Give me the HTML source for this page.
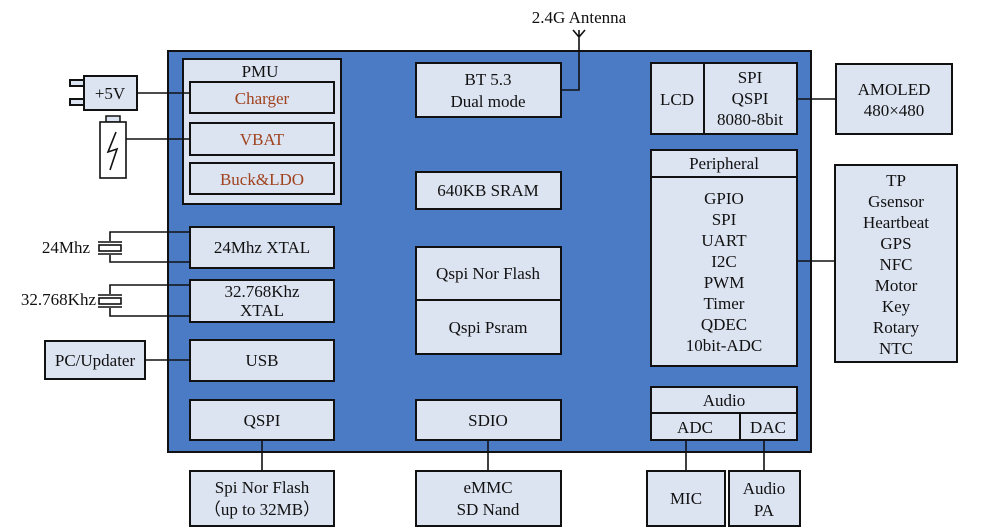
<!DOCTYPE html>
<html><head><meta charset="utf-8"><style>
html,body{margin:0;padding:0;background:#fff;}
svg{display:block;}
text{font-family:"Liberation Serif","Times New Roman",serif;font-size:17px;fill:#111;text-anchor:middle;}
.b{fill:#dce3f1;stroke:#111;stroke-width:2;}
.l{stroke:#111;stroke-width:1.6;fill:none;}
.o{fill:#a0421e;}
</style></head><body>
<svg width="1005" height="529" viewBox="0 0 1005 529" xmlns="http://www.w3.org/2000/svg">
<rect x="168" y="51" width="643" height="401" fill="#4a7bc4" stroke="#111" stroke-width="2"/>
<text x="579" y="23">2.4G Antenna</text>
<path class="l" d="M579 30 V90 H561 M573 30 L579 37 L585 30"/>
<rect class="b" x="183" y="59" width="158" height="145"/>
<text x="260" y="77">PMU</text>
<rect class="b" x="190" y="82" width="144" height="31"/><text class="o" x="262" y="104">Charger</text>
<rect class="b" x="190" y="123" width="144" height="32"/><text class="o" x="262" y="145">VBAT</text>
<rect class="b" x="190" y="163" width="144" height="31"/><text class="o" x="262" y="185">Buck&amp;LDO</text>
<rect class="b" x="70" y="80" width="14" height="6"/><rect class="b" x="70" y="99" width="14" height="6"/>
<rect class="b" x="84" y="76" width="53" height="34"/><text x="110" y="99">+5V</text>
<path class="l" d="M137 93 H190"/>
<rect class="b" x="106" y="116" width="14" height="6" style="stroke-width:1.5"/>
<rect x="100" y="122" width="26" height="56" fill="#fff" stroke="#111" stroke-width="1.6"/>
<path class="l" d="M116 132 L108 152 L117 149 L110 170"/>
<path class="l" d="M126 139 H190"/>
<rect class="b" x="190" y="227" width="144" height="41"/><text x="262" y="253">24Mhz XTAL</text>
<path class="l" d="M190 232 H110 V241 M98 242 H122 M98 254 H122 M110 255 V262 H190"/>
<rect x="99" y="245" width="22" height="6" fill="#fff" stroke="#111" stroke-width="1.6"/>
<text x="90" y="253" style="text-anchor:end">24Mhz</text>
<rect class="b" x="190" y="280" width="144" height="42"/><text x="262" y="297">32.768Khz</text><text x="262" y="316">XTAL</text>
<path class="l" d="M190 285 H110 V294 M98 295 H122 M98 307 H122 M110 308 V316 H190"/>
<rect x="99" y="298" width="22" height="6" fill="#fff" stroke="#111" stroke-width="1.6"/>
<text x="96" y="305" style="text-anchor:end">32.768Khz</text>
<rect class="b" x="45" y="341" width="100" height="38"/><text x="95" y="366">PC/Updater</text>
<path class="l" d="M145 360 H190"/>
<rect class="b" x="190" y="340" width="144" height="41"/><text x="262" y="366">USB</text>
<rect class="b" x="190" y="400" width="144" height="40"/><text x="262" y="426">QSPI</text>
<path class="l" d="M262 440 V471"/>
<rect class="b" x="190" y="471" width="144" height="55"/><text x="262" y="493">Spi Nor Flash</text><text x="262" y="515">（up to 32MB）</text>
<rect class="b" x="416" y="63" width="145" height="54"/><text x="488" y="85">BT 5.3</text><text x="488" y="107">Dual mode</text>
<rect class="b" x="416" y="172" width="145" height="37"/><text x="488" y="196">640KB SRAM</text>
<rect class="b" x="416" y="247" width="145" height="53"/><text x="488" y="279">Qspi Nor Flash</text>
<rect class="b" x="416" y="300" width="145" height="54"/><text x="488" y="333">Qspi Psram</text>
<rect class="b" x="416" y="400" width="145" height="40"/><text x="488" y="426">SDIO</text>
<path class="l" d="M488 440 V471"/>
<rect class="b" x="416" y="471" width="145" height="55"/><text x="488" y="493">eMMC</text><text x="488" y="515">SD Nand</text>
<rect class="b" x="651" y="63" width="146" height="71"/>
<path class="l" d="M704 63 V134" style="stroke-width:2"/>
<text x="677" y="105">LCD</text>
<text x="750" y="83">SPI</text><text x="750" y="104">QSPI</text><text x="750" y="125">8080-8bit</text>
<path class="l" d="M797 99 H836"/>
<rect class="b" x="836" y="64" width="116" height="70"/><text x="894" y="95">AMOLED</text><text x="894" y="116">480×480</text>
<rect class="b" x="651" y="150" width="146" height="216"/>
<path class="l" d="M651 177 H797" style="stroke-width:2"/>
<text x="724" y="169">Peripheral</text>
<text x="724" y="204">GPIO</text><text x="724" y="225">SPI</text><text x="724" y="246">UART</text><text x="724" y="267">I2C</text>
<text x="724" y="288">PWM</text><text x="724" y="309">Timer</text><text x="724" y="330">QDEC</text><text x="724" y="351">10bit-ADC</text>
<path class="l" d="M797 261 H835"/>
<rect class="b" x="835" y="165" width="122" height="197"/>
<text x="896" y="186">TP</text><text x="896" y="207">Gsensor</text><text x="896" y="228">Heartbeat</text><text x="896" y="249">GPS</text>
<text x="896" y="270">NFC</text><text x="896" y="291">Motor</text><text x="896" y="312">Key</text><text x="896" y="333">Rotary</text><text x="896" y="354">NTC</text>
<rect class="b" x="651" y="387" width="146" height="53"/>
<path class="l" d="M651 413 H797 M740 413 V440" style="stroke-width:2"/>
<text x="724" y="406">Audio</text><text x="695" y="433">ADC</text><text x="768" y="433">DAC</text>
<path class="l" d="M686 440 V471 M764 440 V471"/>
<rect class="b" x="647" y="471" width="78" height="55"/><text x="686" y="504">MIC</text>
<rect class="b" x="729" y="471" width="71" height="55"/><text x="764" y="494">Audio</text><text x="764" y="516">PA</text>
</svg>
</body></html>
